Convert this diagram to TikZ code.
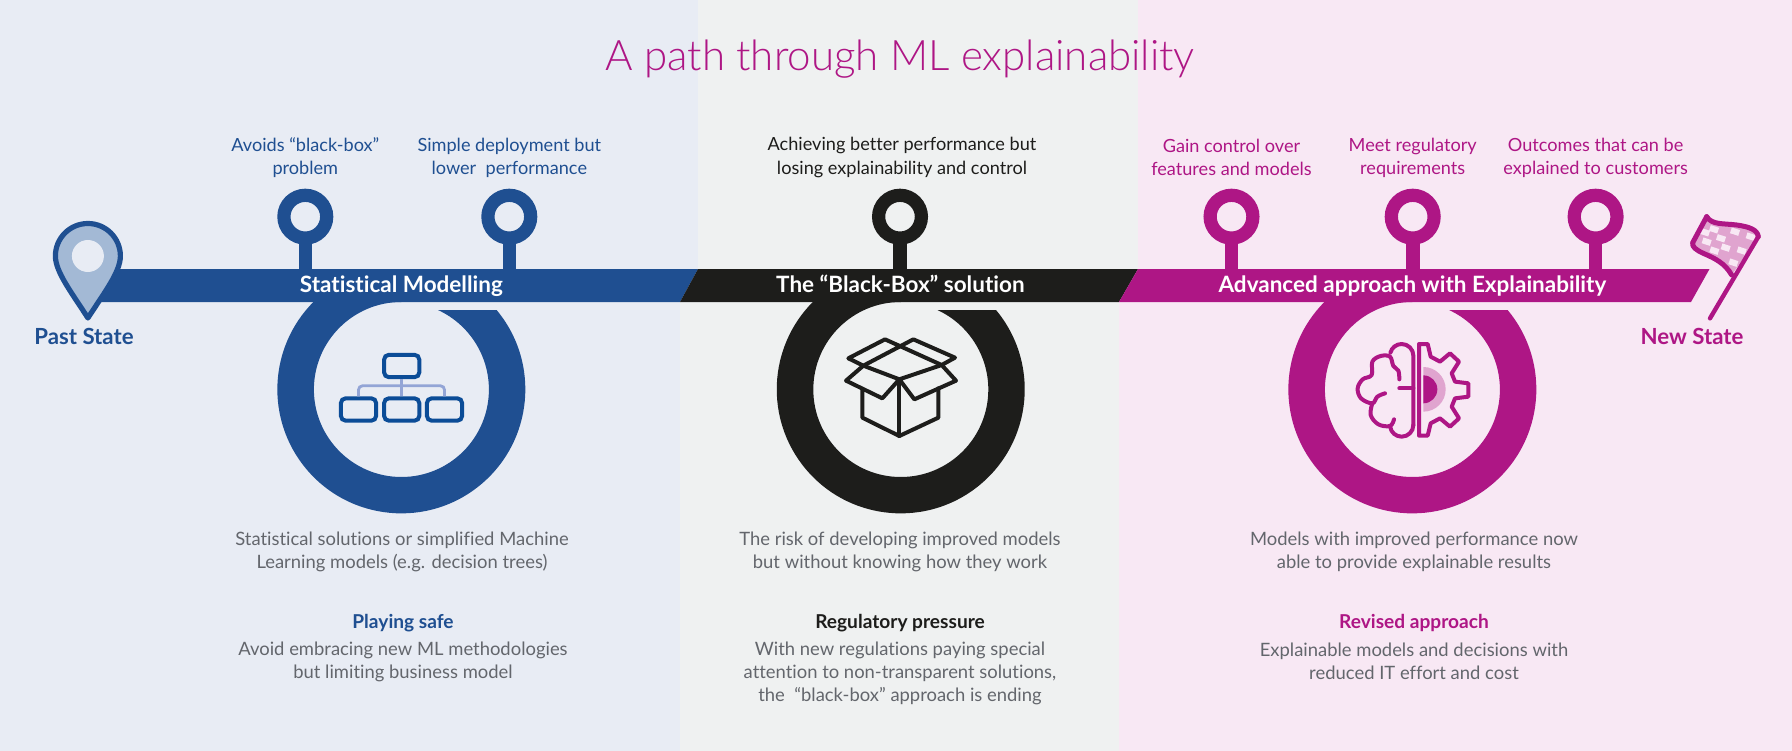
\documentclass[tikz,border=0pt]{standalone}
\usepackage{fontspec}
\setmainfont{Lato}[Ligatures=NoCommon,BoldFont=* Bold]
\newfontfamily\titlefont{Lato Light}[Ligatures=NoCommon]
\usepackage{tikz}
\usetikzlibrary{arrows.meta,positioning,calc}
\definecolor{ablue}{HTML}{1F4F91}
\definecolor{ablack}{HTML}{1D1D1B}
\definecolor{apink}{HTML}{AE1685}
\definecolor{bgblue}{HTML}{E8ECF4}
\definecolor{bggrey}{HTML}{EFF1F1}
\definecolor{bgpink}{HTML}{F8E8F4}
\definecolor{softpink}{HTML}{E0A4CF}
\definecolor{softblue}{HTML}{A3B9D5}
\definecolor{orgblue}{HTML}{0B4C97}
\definecolor{orgline}{HTML}{93A5D6}
\definecolor{bodygrey}{HTML}{63666C}
\tikzset{
  pinhead/.style={circle,draw=#1,line width=3.3mm,minimum size=10.7mm,inner sep=0pt},
  stem/.style={draw=#1,line width=3.4mm,shorten <=-0.6mm},
  toplbl/.style={text=#1,align=center,font=\fontsize{12.9}{16.4}\selectfont,inner sep=0pt},
  barlbl/.style={text=white,anchor=base,font=\fontsize{16}{19}\selectfont\bfseries,inner sep=0pt},
  statelbl/.style={text=#1,anchor=base,font=\fontsize{15.8}{18}\selectfont\bfseries,inner sep=0pt},
  desc/.style={text=bodygrey,align=center,font=\fontsize{13.1}{16.4}\selectfont,inner sep=0pt},
  subhead/.style={text=#1,anchor=base,font=\fontsize{13.6}{16}\selectfont\bfseries,inner sep=0pt},
  orgbox/.style={draw=orgblue,line width=1mm,rounded corners=1.2mm,minimum width=8.8mm,minimum height=5.6mm,inner sep=0pt},
  orgwire/.style={draw=orgline,line width=0.7mm},
  iconline/.style={draw=#1,line width=1mm,line join=round,line cap=round},
}
\newcommand{\ringshape}[2]{%
  \fill[#2] ({#1+95.2},310) arc[start angle=-39.8,end angle=224.8,radius=124]
    -- ({#1},302) arc[start angle=270,end angle=-65.1,radius=87.5] -- cycle;}

\begin{document}
\begin{tikzpicture}[x=0.25mm,y=-0.25mm]
  \useasboundingbox (0,0) rectangle (1792,751);
  % panels
  \fill[bgblue] (0,0) -- (698,0) -- (698,269) -- (680,302) -- (680,751) -- (0,751) -- cycle;
  \fill[bggrey] (698,0) -- (1138,0) -- (1138,269) -- (1119,302) -- (1119,751) -- (680,751) -- (680,302) -- (698,269) -- cycle;
  \fill[bgpink] (1138,0) -- (1792,0) -- (1792,751) -- (1119,751) -- (1119,302) -- (1138,269) -- cycle;

  \node[text=apink,font=\titlefont\fontsize{29.9}{32}\selectfont,inner sep=0pt] (title) at (900,59) {A path through ML explainability};

  % ribbon
  \coordinate (bartop) at (0,269);
  \fill[ablue] (88,269) -- (698,269) -- (680,302) -- (88,302) -- cycle;
  \fill[ablack] (698,269) -- (1138,269) -- (1119,302) -- (680,302) -- cycle;
  \fill[apink] (1138,269) -- (1709.5,269) -- (1691,302) -- (1119,302) -- cycle;

  % pins
  \foreach \pname/\px/\pcol in {pinavoid/305.3/ablue,pinsimple/509.3/ablue,pinbetter/900/ablack,
      pingain/1231.5/apink,pinmeet/1412.7/apink,pinexpl/1595.6/apink}{
    \node[pinhead=\pcol] (\pname) at (\px,216.7) {};
    \draw[stem=\pcol] (\pname) -- (\pname |- bartop);
  }

  \node[toplbl=ablue] (lblavoid) at (305.3,157.5) {Avoids “black-box”\\problem};
  \node[toplbl=ablue] (lblsimple) at (509.3,157.5) {Simple deployment but\\lower\ \ performance};
  \node[toplbl=ablack] (lblbetter) at (902,157.5) {Achieving better performance but\\losing explainability and control};
  \node[toplbl=apink] (lblgain) at (1231.5,157.5) {Gain control over\\features and models};
  \node[toplbl=apink] (lblmeet) at (1412.7,157.5) {Meet regulatory\\requirements};
  \node[toplbl=apink] (lblexpl) at (1595.6,157.5) {Outcomes that can be\\explained to customers};

  % rings
  \ringshape{401.4}{ablue}
  \ringshape{900.8}{ablack}
  \ringshape{1412.4}{apink}

  \node[barlbl] (barstat) at (401.4,292.5) {Statistical Modelling};
  \node[barlbl] (barblack) at (900.4,292.5) {The “Black-Box” solution};
  \node[barlbl] (baradv) at (1412.4,292.5) {Advanced approach with Explainability};

  % start marker
  \draw[draw=ablue,fill=softblue,line width=1.3mm,line join=round] (55.4,256)
    arc[start angle=180,end angle=360,radius=32.5]
    .. controls (120.4,272) and (104,293) .. (87.9,318)
    .. controls (72,293) and (55.4,272) .. (55.4,256) -- cycle;
  \fill[bgblue] (87.9,256) circle (16);
  \node[statelbl=ablue] (past) at (84,344.5) {Past State};

  % finish flag
  \begin{scope}[shift={(1670,200)},scale=1/3]
    \begin{scope}
      \clip (110,50) .. controls (125,75) and (160,70) .. (200,75)
        .. controls (235,80) and (262,88) .. (265,110) -- (185,225)
        .. controls (165,190) and (135,175) .. (100,160) .. controls (78,150) and (65,140) .. (68,128) -- cycle;
      \fill[softpink] (50,30) rectangle (280,240);
      \foreach \tx/\ty in {105/97,132/88,195/95,153/115,110/125,242/110,167/143,215/152,133/152,190/188}
        \fill[bgpink,shift={(\tx,\ty)},rotate=-18] (-13,-9) rectangle (13,9);
    \end{scope}
    \draw[iconline=apink,line width=1.25mm] (110,50) .. controls (125,75) and (160,70) .. (200,75)
      .. controls (235,80) and (262,88) .. (265,110);
    \draw[iconline=apink,line width=1.25mm] (185,225)
      .. controls (165,190) and (135,175) .. (100,160) .. controls (78,150) and (65,140) .. (68,128) -- (110,50);
    \draw[iconline=apink,line width=1.1mm] (120,355) -- (265,110);
  \end{scope}
  \node[statelbl=apink] (newst) at (1692,344.5) {New State};

  % org chart
  \node[orgbox] (orgtop) at (401.7,366) {};
  \node[orgbox] (orgleft) at (358.5,409.5) {};
  \node[orgbox] (orgmid) at (401.7,409.5) {};
  \node[orgbox] (orgright) at (444.5,409.5) {};
  \draw[orgwire] (orgtop) -- (orgmid);
  \draw[orgwire,rounded corners=1mm] (orgleft.north) -- ++(0,-10.5) -| (orgright.north);

  % open box
  \begin{scope}[shift={(820,320)},scale=1/3]
    \draw[iconline=ablack] (127,207) -- (127,293) -- (238,348) -- (355,293) -- (355,205);
    \draw[iconline=ablack] (238,178) -- (238,348);
    \draw[iconline=ablack] (238,178) -- (187,235) -- (78,182) -- (130,137) -- (238,178) -- (365,135) -- (408,182) -- (283,238) -- cycle;
    \draw[iconline=ablack] (130,137) -- (280,58) -- (405,113) -- (365,135) -- (195,58) -- (85,115) -- cycle;
  \end{scope}

  % brain and gear
  \begin{scope}[shift={(1340,340)},scale=1/3]
    \fill[softpink] (250,81) arc[start angle=-90,end angle=90,radius=67] -- cycle;
    \fill[apink] (250,106) arc[start angle=-90,end angle=90,radius=42] -- cycle;
    \draw[iconline=apink] (237,12) -- (263,12) -- (272,50) -- (300,65) -- (330,40) -- (357,65) -- (335,100) -- (345,125)
      -- (385,130) -- (385,170) -- (345,175) -- (335,200) -- (357,235) -- (330,260) -- (300,235) -- (272,250) -- (263,287) -- (237,287) -- cycle;
    \draw[iconline=apink] (178,145) -- (220,145);
    \draw[iconline=apink] (220,255) arc[start angle=0,end angle=170,radius=35];
    \draw[iconline=apink] (220,255) -- (220,47) arc[start angle=0,end angle=-165,radius=35];
    \draw[iconline=apink] plot[smooth,tension=.6] coordinates {(178,118) (175,92) (160,78) (150,50) (122,48) (97,65) (95,105) (68,118) (53,145) (63,175) (97,190) (112,170) (135,160)};
    \draw[iconline=apink] plot[smooth,tension=.6] coordinates {(97,190) (92,225) (115,253) (150,258) (162,238)};
  \end{scope}

  % descriptions
  \node[desc] (descstat) at (402,552) {Statistical solutions or simplified Machine\\Learning models (e.g. decision trees)};
  \node[subhead=ablue] (headsafe) at (403,628.5) {Playing safe};
  \node[desc] (textsafe) at (403,661.5) {Avoid embracing new ML methodologies\\but limiting business model};

  \node[desc] (descblack) at (900,552) {The risk of developing improved models\\but without knowing how they work};
  \node[subhead=ablack] (headreg) at (900,628.5) {Regulatory pressure};
  \node[desc] (textreg) at (900,673) {With new regulations paying special\\attention to non-transparent solutions,\\the\ \ “black-box” approach is ending};

  \node[desc] (descadv) at (1414,552) {Models with improved performance now\\able to provide explainable results};
  \node[subhead=apink] (headrev) at (1414,628.5) {Revised approach};
  \node[desc] (textrev) at (1414,661.5) {Explainable models and decisions with\\reduced IT effort and cost};
\end{tikzpicture}
\end{document}
